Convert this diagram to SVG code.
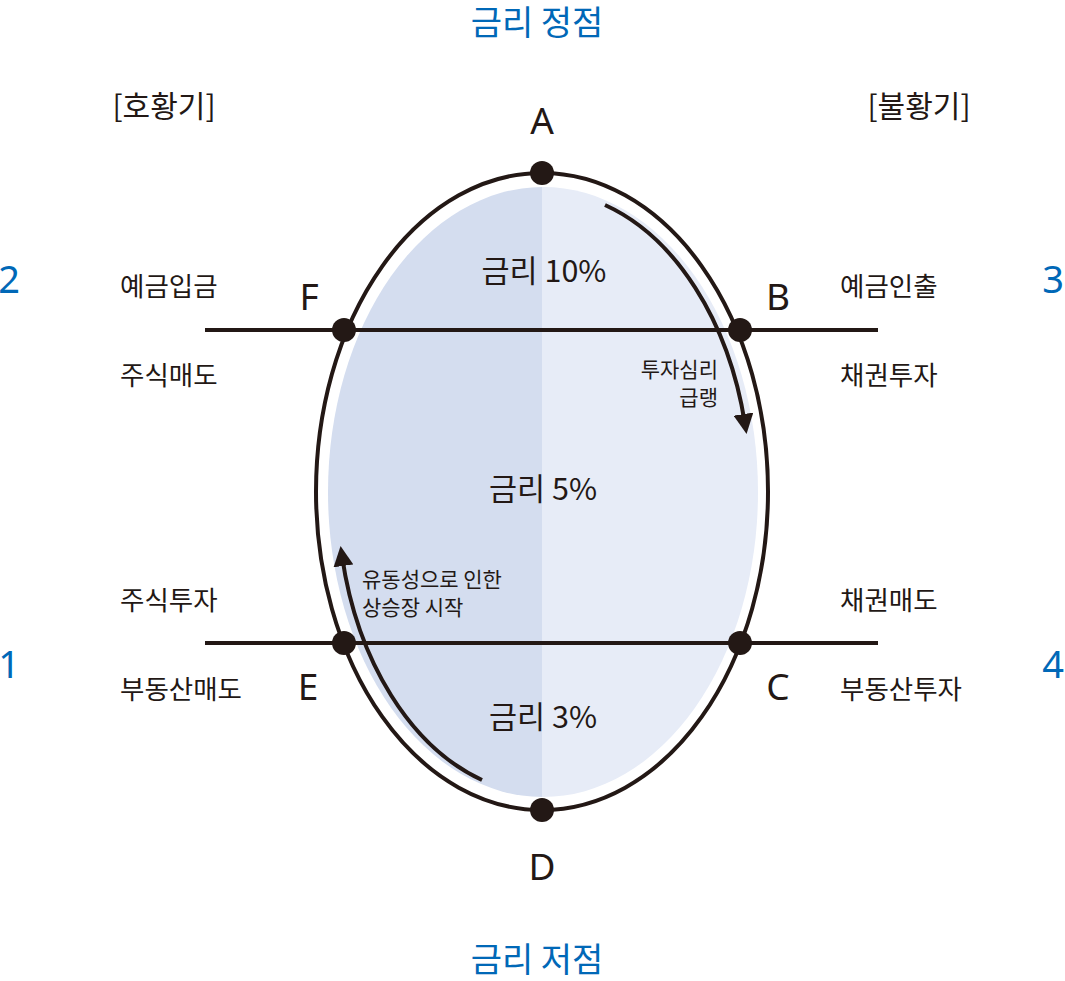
<svg xmlns="http://www.w3.org/2000/svg" width="1065" height="981" viewBox="0 0 1065 981">
<style>
text{font-family:"Noto Sans CJK KR","Noto Sans",sans-serif;fill:#231815}
.blue{fill:#0068b7;font-size:34px}
.num{fill:#0068b7;font-size:38px;font-family:"Noto Sans","Noto Sans CJK KR",sans-serif}
.lab{font-size:26.5px}
.brk{font-size:30px}
.let{font-size:37px;font-family:"Noto Sans","Noto Sans CJK KR",sans-serif}
.rate{font-size:30.5px}
.note{font-size:21px}
.line{stroke:#231815;stroke-width:4;fill:none}
.dot{fill:#231815}
</style>
<defs>
<clipPath id="lh"><rect x="0" y="0" width="542" height="981"/></clipPath>
<clipPath id="rh"><rect x="542" y="0" width="523" height="981"/></clipPath>
<marker id="ah" viewBox="0 0 10 10" refX="5" refY="5" markerWidth="5" markerHeight="5" orient="auto"><path d="M0,0 L10,5 L0,10 z" fill="#231815"/></marker>
</defs>
<g id="fill">
<ellipse cx="543" cy="492" rx="215" ry="305" fill="#d4ddef" clip-path="url(#lh)"/>
<ellipse cx="543" cy="492" rx="215" ry="305" fill="#e7ecf7" clip-path="url(#rh)"/>
</g>
<g id="connectors">
<ellipse class="line" cx="542" cy="491.5" rx="226" ry="318.5"/>
<line class="line" x1="205" y1="330" x2="878" y2="330"/>
<line class="line" x1="205" y1="643" x2="878" y2="643"/>
<path class="line" d="M605,205 A208,300 0 0 1 745,424" marker-end="url(#ah)"/>
<path class="line" d="M482,780 A208,300 0 0 1 342,556" marker-end="url(#ah)"/>
</g>
<g id="nodeA"><circle class="dot" cx="542" cy="173" r="12"/><text class="let" x="542" y="134" text-anchor="middle">A</text></g>
<g id="nodeB"><circle class="dot" cx="740" cy="330" r="12"/><text class="let" x="778" y="310" text-anchor="middle">B</text></g>
<g id="nodeC"><circle class="dot" cx="740" cy="643" r="12"/><text class="let" x="778" y="700" text-anchor="middle">C</text></g>
<g id="nodeD"><circle class="dot" cx="542" cy="810" r="12"/><text class="let" x="542" y="880" text-anchor="middle">D</text></g>
<g id="nodeE"><circle class="dot" cx="344" cy="643" r="12"/><text class="let" x="308" y="700" text-anchor="middle">E</text></g>
<g id="nodeF"><circle class="dot" cx="344" cy="330" r="12"/><text class="let" x="309" y="310" text-anchor="middle">F</text></g>
<g id="titles">
<text class="blue" x="537" y="35" text-anchor="middle">금리 정점</text>
<text class="blue" x="537" y="972" text-anchor="middle">금리 저점</text>
<text class="brk" x="164" y="117" text-anchor="middle">[호황기]</text>
<text class="brk" x="919" y="117" text-anchor="middle">[불황기]</text>
</g>
<g id="numbers">
<text class="num" x="9" y="293" text-anchor="middle">2</text>
<text class="num" x="1053" y="293" text-anchor="middle">3</text>
<text class="num" x="9" y="678" text-anchor="middle">1</text>
<text class="num" x="1053" y="678" text-anchor="middle">4</text>
</g>
<g id="sideLabels">
<text class="lab" x="120" y="296">예금입금</text>
<text class="lab" x="120" y="385">주식매도</text>
<text class="lab" x="120" y="610">주식투자</text>
<text class="lab" x="120" y="699">부동산매도</text>
<text class="lab" x="840" y="296">예금인출</text>
<text class="lab" x="840" y="385">채권투자</text>
<text class="lab" x="840" y="610">채권매도</text>
<text class="lab" x="840" y="699">부동산투자</text>
</g>
<g id="rates">
<text class="rate" x="544" y="282" text-anchor="middle">금리 10%</text>
<text class="rate" x="543" y="500" text-anchor="middle">금리 5%</text>
<text class="rate" x="543" y="728" text-anchor="middle">금리 3%</text>
</g>
<g id="notes">
<text class="note" x="718" y="377" text-anchor="end">투자심리</text>
<text class="note" x="718" y="405" text-anchor="end">급랭</text>
<text class="note" x="362" y="587">유동성으로 인한</text>
<text class="note" x="362" y="615">상승장 시작</text>
</g>
</svg>
